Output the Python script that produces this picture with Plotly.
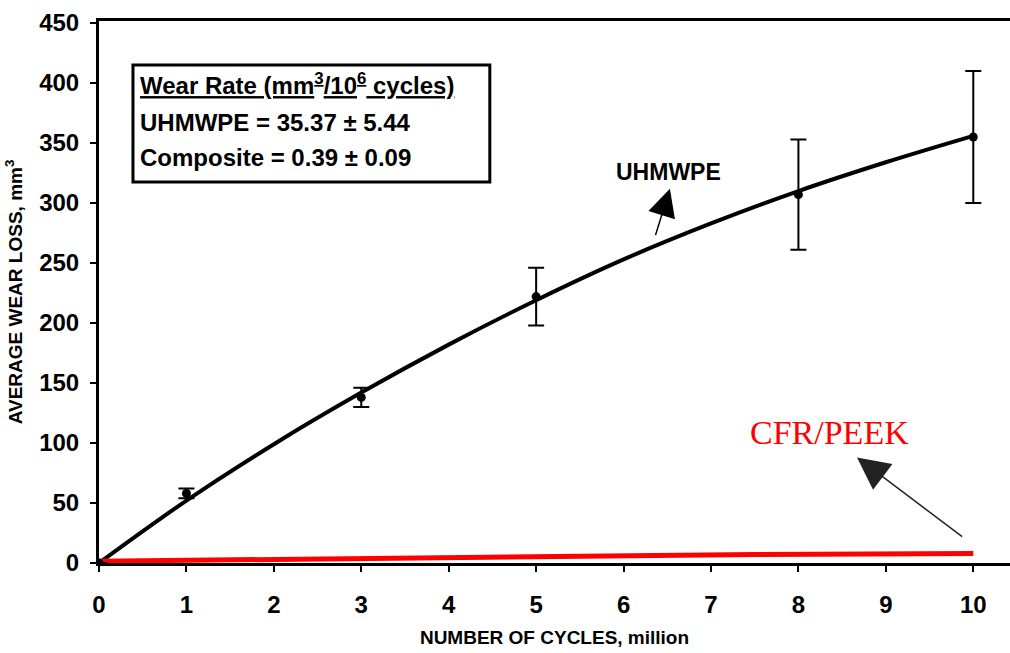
import plotly.graph_objects as go

# UHMWPE measured means with error bars
pts_x = [0, 1, 3, 5, 8, 10]
pts_y = [0, 58, 138, 222, 307, 355]
pts_err = [0, 4, 8, 24, 46, 55]

# UHMWPE fitted curve
fit_x = [0, 1, 2, 3, 4, 5, 6, 7, 8, 9, 10]
fit_y = [0, 52, 99, 142, 182, 219, 253, 283, 310, 334, 356]

# CFR/PEEK composite
cfr_x = [0, 2.5, 5, 7.5, 10]
cfr_y = [1.5, 3.5, 5.5, 7, 8]

x_ticks = [0, 1, 2, 3, 4, 5, 6, 7, 8, 9, 10]
y_ticks = [0, 50, 100, 150, 200, 250, 300, 350, 400, 450]

FONT = "Liberation Sans, Arial, sans-serif"

fig = go.Figure()
fig.add_trace(go.Scatter(x=fit_x, y=fit_y, mode="lines", line=dict(color="black", width=4, shape="spline"),
                         showlegend=False, hoverinfo="skip"))
fig.add_trace(go.Scatter(x=cfr_x, y=cfr_y, mode="lines", line=dict(color="#ff0000", width=5),
                         showlegend=False))
fig.add_trace(go.Scatter(x=pts_x, y=pts_y, mode="markers", marker=dict(color="black", size=9),
                         error_y=dict(type="data", array=pts_err, color="black", thickness=2, width=8),
                         showlegend=False))

# wear-rate box
fig.add_shape(type="rect", xref="paper", yref="paper", x0=0.0373, x1=0.429, y0=0.703, y1=0.919,
              line=dict(color="black", width=3), fillcolor="white", layer="below")

box_lines = [
    ("<u>Wear Rate (mm<sup>3</sup>/10<sup>6</sup> cycles)</u>", 0.884),
    ("UHMWPE = 35.37 ± 5.44", 0.812),
    ("Composite = 0.39 ± 0.09", 0.749),
]
for txt, yy in box_lines:
    fig.add_annotation(text=txt, xref="paper", yref="paper", x=0.043, y=yy, xanchor="left", yanchor="middle",
                       showarrow=False, font=dict(family=FONT, size=24, color="black", weight="bold"))

fig.add_annotation(text="UHMWPE", x=6.51, y=326, xref="x", yref="y", showarrow=False,
                   font=dict(family=FONT, size=23, color="black", weight="bold"))
fig.add_annotation(text="", x=6.53, y=312, ax=6.36, ay=272, xref="x", yref="y", axref="x", ayref="y",
                   showarrow=True, arrowhead=2, arrowsize=3.7, arrowwidth=1.5, arrowcolor="black", standoff=0)

fig.add_annotation(text="CFR/PEEK", x=8.35, y=109, xref="x", yref="y", showarrow=False,
                   font=dict(family="Liberation Serif, Times New Roman, serif", size=34, color="#ff0000"))
fig.add_annotation(text="", x=8.67, y=88, ax=9.89, ay=21, xref="x", yref="y", axref="x", ayref="y",
                   showarrow=True, arrowhead=2, arrowsize=4.3, arrowwidth=1.5, arrowcolor="#222222", standoff=0)

fig.update_layout(
    width=1010, height=653,
    margin=dict(l=99, r=0, t=21, b=90),
    paper_bgcolor="white", plot_bgcolor="white",
    xaxis=dict(range=[0, 10.42], tickvals=x_ticks, ticktext=[str(v) for v in x_ticks],
               showline=True, linecolor="black", linewidth=3, mirror=True,
               ticks="outside", ticklen=6, tickwidth=1.5, tickcolor="black",
               showgrid=False, zeroline=False, ticklabelstandoff=12,
               tickfont=dict(family=FONT, size=24, color="black", weight="bold"),
               title=dict(text="NUMBER OF CYCLES, million", standoff=14,
                          font=dict(family=FONT, size=19, color="black", weight="bold"))),
    yaxis=dict(range=[0, 451.7], tickvals=y_ticks, ticktext=[str(v) for v in y_ticks],
               showline=True, linecolor="black", linewidth=3, mirror=False,
               ticks="outside", ticklen=6, tickwidth=1.5, tickcolor="black",
               showgrid=False, zeroline=False, ticklabelstandoff=6,
               tickfont=dict(family=FONT, size=24, color="black", weight="bold"),
               title=dict(text="AVERAGE WEAR LOSS, mm<sup>3</sup>", standoff=12,
                          font=dict(family=FONT, size=19, color="black", weight="bold"))),
)

fig.write_html("out.html")
